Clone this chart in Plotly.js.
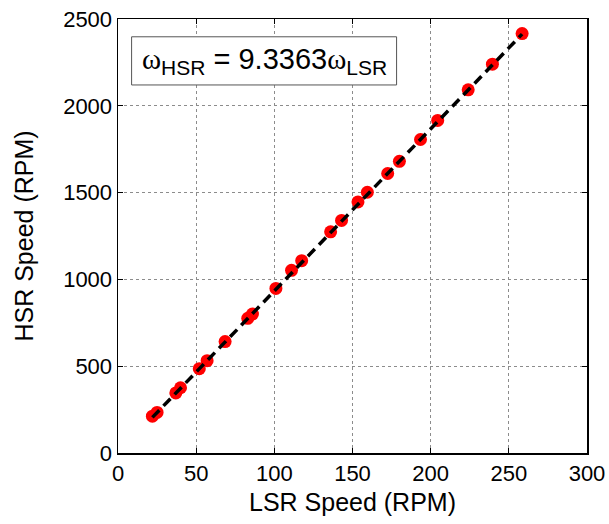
<!DOCTYPE html>
<html><head><meta charset="utf-8">
<script src="https://cdn.plot.ly/plotly-3.0.1.min.js"></script>
<style>html,body{margin:0;padding:0;background:#fff;}</style>
</head><body>
<div id="chart" style="width:609px;height:524px;"></div>
<script>
const lsrSpeed = [22, 25, 37, 40, 52, 57, 68.5, 83, 86, 101, 111, 117.5, 136, 143, 153.5, 159.5, 172.5, 180, 193.5, 204.5, 224, 239.5, 258.5];
const hsrSpeed = [212, 234, 346, 376, 486, 532, 642, 776, 800, 948, 1052, 1108, 1274, 1340, 1446, 1502, 1610, 1680, 1806, 1916, 2092, 2240, 2416];
const fitX = [22, 258.5];
const fitY = [205, 2413];
const xTicks = [0, 50, 100, 150, 200, 250, 300];
const yTicks = [0, 500, 1000, 1500, 2000, 2500];
const fitLabel = '<span style="font-family:Liberation Serif">ω</span><sub><span style="font-size:21px">HSR</span></sub> = 9.3363<span style="font-family:Liberation Serif">ω</span><sub><span style="font-size:21px">LSR</span></sub>';

const traces = [
  {x: lsrSpeed, y: hsrSpeed, type: 'scatter', mode: 'markers',
   marker: {color: '#ff0000', size: 13, line: {width: 0}}, showlegend: false},
  {x: fitX, y: fitY, type: 'scatter', mode: 'lines',
   line: {color: '#000', width: 3.5, dash: '10px,6px'}, showlegend: false}
];
const axisCommon = {
  showline: true, linecolor: '#000', linewidth: 1.5, mirror: 'ticks',
  ticks: 'inside', ticklen: 5, tickcolor: '#000', tickwidth: 1,
  showgrid: true, gridcolor: '#8c8c8c', griddash: 'dot', gridwidth: 1,
  zeroline: false, tickfont: {family: 'Liberation Sans, Arial', size: 22, color: '#000'}
};
const layout = {
  width: 609, height: 524,
  margin: {l: 118, r: 22, t: 19, b: 71},
  paper_bgcolor: '#fff', plot_bgcolor: '#fff',
  xaxis: Object.assign({}, axisCommon, {range: [0, 300], tickvals: xTicks, ticktext: xTicks.map(String),
    title: {text: 'LSR Speed (RPM)', font: {family: 'Liberation Sans, Arial', size: 25, color: '#000'}, standoff: 8}}),
  yaxis: Object.assign({}, axisCommon, {range: [0, 2500], tickvals: yTicks, ticktext: yTicks.map(String),
    title: {text: 'HSR Speed (RPM)', font: {family: 'Liberation Sans, Arial', size: 25, color: '#000'}, standoff: 22}}),
  shapes: [{type: 'rect', xref: 'paper', yref: 'paper', x0: 0.029, x1: 0.594, y0: 0.848, y1: 0.959,
    line: {color: '#555', width: 1}, fillcolor: '#fff', layer: 'above'}],
  annotations: [{xref: 'paper', yref: 'paper', x: 0.3115, y: 0.9035, xanchor: 'center', yanchor: 'middle',
    text: fitLabel, showarrow: false, font: {family: 'Liberation Sans, Arial', size: 29, color: '#000'}}]
};
Plotly.newPlot('chart', traces, layout, {displayModeBar: false, staticPlot: true});
</script>
</body></html>
